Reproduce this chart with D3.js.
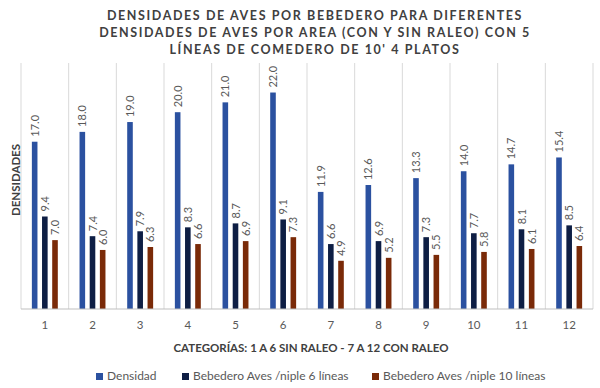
<!DOCTYPE html>
<html>
<head>
<meta charset="utf-8">
<script src="https://cdn.jsdelivr.net/npm/d3@7"></script>
<style>
  body { margin: 0; background: #fff; }
  svg { font-family: Lato, "Open Sans", sans-serif; }
</style>
</head>
<body>
<svg id="chart" width="600" height="388"></svg>
<script>
// categories and series
var categorias = ["1", "2", "3", "4", "5", "6", "7", "8", "9", "10", "11", "12"];
var densidad   = [17.0, 18.0, 19.0, 20.0, 21.0, 22.0, 11.9, 12.6, 13.3, 14.0, 14.7, 15.4];
var niple6     = [9.4, 7.4, 7.9, 8.3, 8.7, 9.1, 6.6, 6.9, 7.3, 7.7, 8.1, 8.5];
var niple10    = [7.0, 6.0, 6.3, 6.6, 6.9, 7.3, 4.9, 5.2, 5.5, 5.8, 6.1, 6.4];
var serieNombres = ["Densidad", "Bebedero Aves /niple 6 líneas", "Bebedero Aves /niple 10 líneas"];
var titulo = ["DENSIDADES DE AVES POR BEBEDERO PARA DIFERENTES",
              "DENSIDADES DE AVES POR AREA (CON Y SIN RALEO) CON 5",
              "LÍNEAS DE COMEDERO DE 10' 4 PLATOS"];

var colores = ["#2b51a0", "#0e1e44", "#7a2a08"];
var series = [densidad, niple6, niple10];

var svg = d3.select("#chart");
var m = {left: 21, right: 7, top: 63, bottom: 79};
var W = 600, H = 388;

var x = d3.scaleBand()
    .domain(categorias)
    .range([m.left, W - m.right])
    .padding(0);

var xs = d3.scaleBand()
    .domain(d3.range(series.length))
    .range([-15, 15])
    .paddingInner(0.45)
    .paddingOuter(0.2);

var y = d3.scaleLinear()
    .domain([0, 25])
    .range([H - m.bottom, m.top]);

// vertical gridlines between categories
var g = svg.append("g");
var bounds = categorias.map(function (c) { return x(c); }).concat([W - m.right]);
g.selectAll("line.grid")
    .data(bounds)
    .enter().append("line")
    .attr("x1", function (d) { return d; })
    .attr("x2", function (d) { return d; })
    .attr("y1", m.top)
    .attr("y2", H - m.bottom)
    .attr("stroke", "#d9d9d9")
    .attr("stroke-width", 1);

// bars + labels
series.forEach(function (s, i) {
    var gs = svg.append("g");
    gs.selectAll("rect")
        .data(s)
        .enter().append("rect")
        .attr("x", function (d, j) { return x(categorias[j]) + x.bandwidth() / 2 + xs(i); })
        .attr("width", xs.bandwidth())
        .attr("y", function (d) { return y(d); })
        .attr("height", function (d) { return y(0) - y(d); })
        .attr("fill", colores[i]);

    gs.selectAll("text")
        .data(s)
        .enter().append("text")
        .attr("transform", function (d, j) {
            var cx = x(categorias[j]) + x.bandwidth() / 2 + xs(i) + xs.bandwidth() / 2 + 4;
            return "translate(" + cx + "," + (y(d) - 5) + ") rotate(-90)";
        })
        .attr("font-size", 11)
        .attr("fill", "#595959")
        .text(function (d) { return d.toFixed(1); });
});

// baseline
svg.append("line")
    .attr("x1", m.left).attr("x2", W - m.right)
    .attr("y1", y(0)).attr("y2", y(0))
    .attr("stroke", "#bfbfbf");

// x tick labels
var xAxis = svg.append("g")
    .attr("transform", "translate(0," + y(0) + ")")
    .call(d3.axisBottom(x).tickSize(0).tickPadding(12));
xAxis.select(".domain").remove();
xAxis.selectAll("text")
    .attr("font-family", "Lato, sans-serif")
    .attr("font-size", 11.5)
    .attr("fill", "#595959");

// title
svg.append("text")
    .attr("text-anchor", "middle")
    .attr("font-weight", "bold")
    .attr("font-size", 12.5)
    .attr("letter-spacing", 1.6)
    .attr("fill", "#404040")
    .selectAll("tspan")
    .data(titulo)
    .enter().append("tspan")
    .attr("x", 315)
    .attr("y", function (d, i) { return 20 + i * 17; })
    .text(function (d) { return d; });

// axis titles
svg.append("text")
    .attr("x", 311).attr("y", 352)
    .attr("text-anchor", "middle")
    .attr("font-weight", "bold")
    .attr("font-size", 11.5)
    .attr("fill", "#404040")
    .text("CATEGORÍAS: 1 A 6 SIN RALEO - 7 A 12 CON RALEO");

svg.append("text")
    .attr("transform", "translate(20,180) rotate(-90)")
    .attr("text-anchor", "middle")
    .attr("font-weight", "bold")
    .attr("font-size", 11.5)
    .attr("fill", "#404040")
    .text("DENSIDADES");

// legend
var legX = [96, 182, 372];
var leg = svg.append("g").selectAll("g")
    .data(serieNombres)
    .enter().append("g")
    .attr("transform", function (d, i) { return "translate(" + legX[i] + ",380)"; });
leg.append("rect")
    .attr("x", 0).attr("y", -7)
    .attr("width", 7).attr("height", 7)
    .attr("fill", function (d, i) { return colores[i]; });
leg.append("text")
    .attr("x", 11).attr("y", 0)
    .attr("font-size", 12)
    .attr("fill", "#595959")
    .text(function (d) { return d; });
</script>
</body>
</html>
